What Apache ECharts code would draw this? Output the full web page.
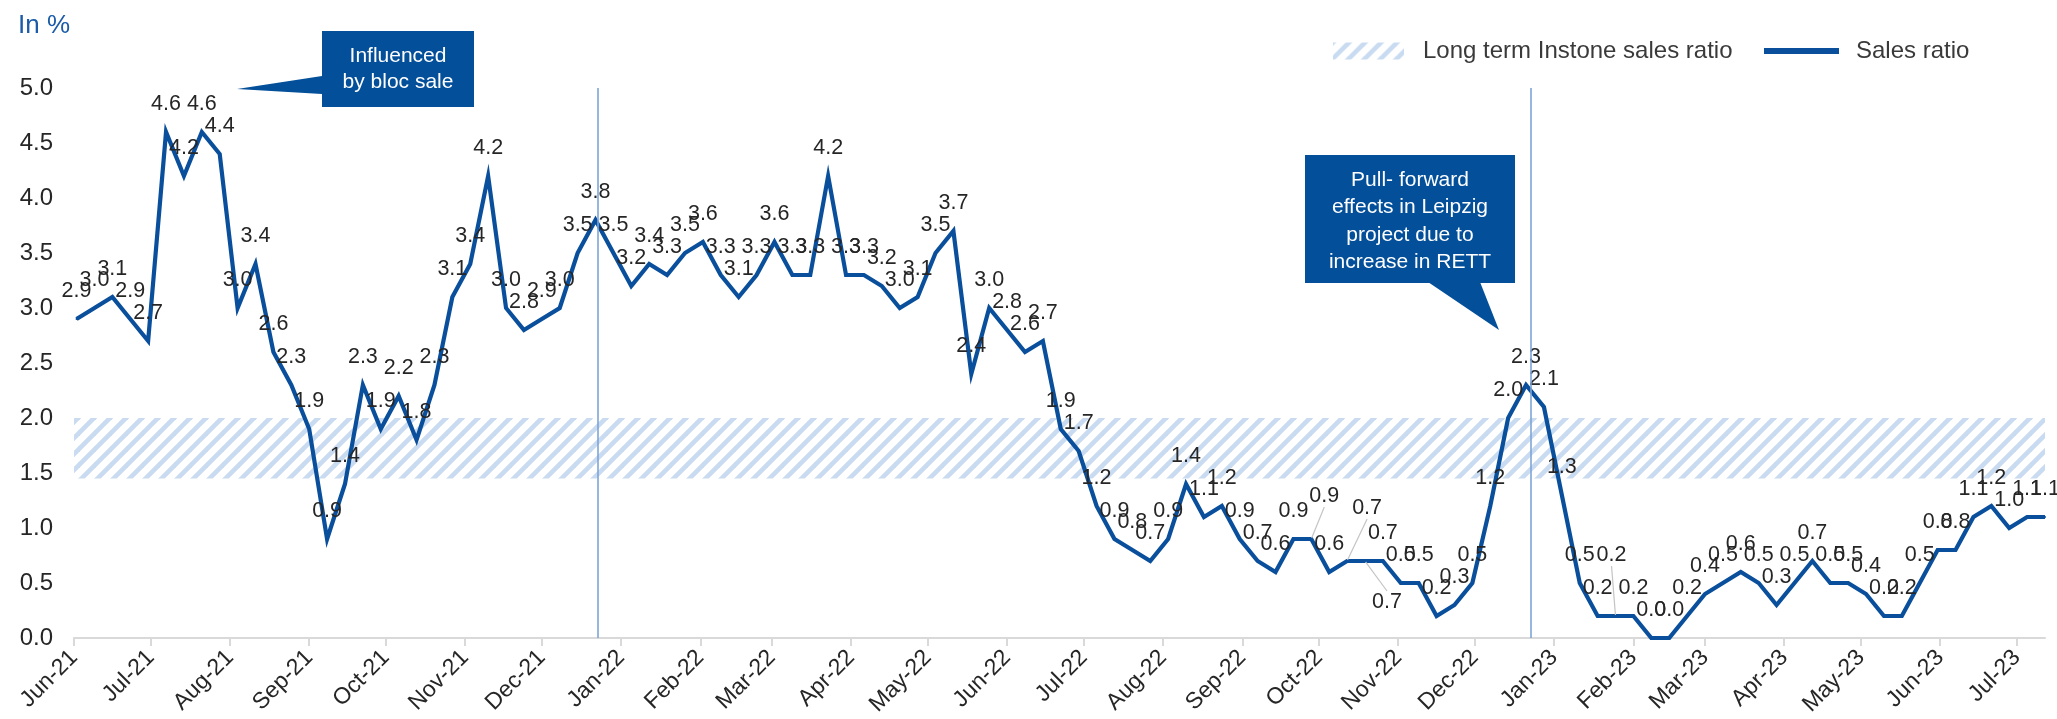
<!DOCTYPE html>
<html>
<head>
<meta charset="utf-8">
<title>Sales ratio</title>
<script src="https://cdn.jsdelivr.net/npm/echarts@6/dist/echarts.min.js"></script>
<style>
  html, body { margin: 0; padding: 0; background: #ffffff; }
  #chart { width: 2057px; height: 719px; }
</style>
</head>
<body>
<div id="chart"></div>
<script>
// Weekly reporting dates
const weeks = [
  '2021-06-02','2021-06-09','2021-06-16','2021-06-23','2021-06-30',
  '2021-07-07','2021-07-14','2021-07-21','2021-07-28',
  '2021-08-04','2021-08-11','2021-08-18','2021-08-25',
  '2021-09-01','2021-09-08','2021-09-15','2021-09-22','2021-09-29',
  '2021-10-06','2021-10-13','2021-10-20','2021-10-27',
  '2021-11-03','2021-11-10','2021-11-17','2021-11-24',
  '2021-12-01','2021-12-08','2021-12-15','2021-12-22','2021-12-29',
  '2022-01-05','2022-01-12','2022-01-19','2022-01-26',
  '2022-02-02','2022-02-09','2022-02-16','2022-02-23',
  '2022-03-02','2022-03-09','2022-03-16','2022-03-23','2022-03-30',
  '2022-04-06','2022-04-13','2022-04-20','2022-04-27',
  '2022-05-04','2022-05-11','2022-05-18','2022-05-25',
  '2022-06-01','2022-06-08','2022-06-15','2022-06-22','2022-06-29',
  '2022-07-06','2022-07-13','2022-07-20','2022-07-27',
  '2022-08-03','2022-08-10','2022-08-17','2022-08-24','2022-08-31',
  '2022-09-07','2022-09-14','2022-09-21','2022-09-28',
  '2022-10-05','2022-10-12','2022-10-19','2022-10-26',
  '2022-11-02','2022-11-09','2022-11-16','2022-11-23','2022-11-30',
  '2022-12-07','2022-12-14','2022-12-21','2022-12-28',
  '2023-01-04','2023-01-11','2023-01-18','2023-01-25',
  '2023-02-01','2023-02-08','2023-02-15','2023-02-22',
  '2023-03-01','2023-03-08','2023-03-15','2023-03-22','2023-03-29',
  '2023-04-05','2023-04-12','2023-04-19','2023-04-26',
  '2023-05-03','2023-05-10','2023-05-17','2023-05-24','2023-05-31',
  '2023-06-07','2023-06-14','2023-06-21','2023-06-28',
  '2023-07-05','2023-07-12'
];

// Sales ratio per week, in %
const salesRatio = [
  2.9, 3.0, 3.1, 2.9, 2.7,
  4.6, 4.2, 4.6, 4.4,
  3.0, 3.4, 2.6, 2.3,
  1.9, 0.9, 1.4, 2.3, 1.9,
  2.2, 1.8, 2.3, 3.1,
  3.4, 4.2, 3.0, 2.8,
  2.9, 3.0, 3.5, 3.8, 3.5,
  3.2, 3.4, 3.3, 3.5,
  3.6, 3.3, 3.1, 3.3,
  3.6, 3.3, 3.3, 4.2, 3.3,
  3.3, 3.2, 3.0, 3.1,
  3.5, 3.7, 2.4, 3.0,
  2.8, 2.6, 2.7, 1.9, 1.7,
  1.2, 0.9, 0.8, 0.7,
  0.9, 1.4, 1.1, 1.2, 0.9,
  0.7, 0.6, 0.9, 0.9,
  0.6, 0.7, 0.7, 0.7,
  0.5, 0.5, 0.2, 0.3, 0.5,
  1.2, 2.0, 2.3, 2.1,
  1.3, 0.5, 0.2, 0.2,
  0.2, 0.0, 0.0, 0.2,
  0.4, 0.5, 0.6, 0.5, 0.3,
  0.5, 0.7, 0.5, 0.5,
  0.4, 0.2, 0.2, 0.5, 0.8,
  0.8, 1.1, 1.2, 1.0,
  1.1, 1.1
];

// Long term Instone sales ratio corridor, in %
const longTermBand = [1.45, 2.0];

// Time span of the x axis and the year-end reference lines
const axisRange = ['2021-06-01', '2023-07-12'];
const yearEndMarks = ['2021-12-23', '2022-12-23'];

// Month names for the axis labels
const monthNames = ['Jan','Feb','Mar','Apr','May','Jun','Jul','Aug','Sep','Oct','Nov','Dec'];

// Y axis ticks, in %
const yTickMin = 0, yTickMax = 5, yTickStep = 0.5;

// Hand-placed data labels (index -> [dx, dy] in px), drawn with a leader line
const movedLabels = { 69: [13, -15], 71: [20, -25], 72: [22, 69], 86: [-4, -33] };

const FONT = '"Liberation Sans", Arial, Helvetica, sans-serif';
const LINE_BLUE = '#0a4f9c';
const BOX_BLUE = '#034f9a';
const TEXT = '#262626';

// Light-blue diagonal hatch used for the long-term corridor
function makeHatch() {
  const c = document.createElement('canvas');
  c.width = 16; c.height = 16;
  const g = c.getContext('2d');
  g.strokeStyle = '#c9dbf1';
  g.lineWidth = 4.6;
  g.lineCap = 'square';
  [-16, 0, 16].forEach(function (k) {
    g.beginPath();
    g.moveTo(k, 16);
    g.lineTo(k + 16, 0);
    g.stroke();
  });
  return c;
}
const hatch = { image: makeHatch(), repeat: 'repeat' };

const bandName = 'Long term Instone sales ratio';
const lineName = 'Sales ratio';

const lineData = weeks.map(function (d, i) {
  const item = { value: [d, salesRatio[i]] };
  if (movedLabels[i]) {
    item.labelLine = { show: true, lineStyle: { color: '#c4c4c4', width: 1.2 } };
  }
  return item;
});

const chart = echarts.init(document.getElementById('chart'), null, { renderer: 'canvas' });

chart.setOption({
  animation: false,
  backgroundColor: '#ffffff',
  textStyle: { fontFamily: FONT },
  title: {
    text: 'In %',
    left: 13,
    top: 8,
    textStyle: { color: '#1b5ba8', fontSize: 26, fontWeight: 'normal', fontFamily: FONT }
  },
  legend: [
    {
      data: [{ name: bandName, icon: 'rect', itemStyle: { color: hatch } }],
      left: 1328,
      top: 34,
      itemWidth: 71,
      itemHeight: 17,
      selectedMode: false,
      textStyle: { color: '#3a3a3a', fontSize: 24, fontFamily: FONT, padding: [0, 0, 0, 14] }
    },
    {
      data: [{ name: lineName, icon: 'rect', itemStyle: { color: LINE_BLUE } }],
      left: 1759,
      top: 34,
      itemWidth: 75,
      itemHeight: 6,
      selectedMode: false,
      textStyle: { color: '#3a3a3a', fontSize: 24, fontFamily: FONT, padding: [0, 0, 0, 12] }
    }
  ],
  grid: {
    left: 74,
    right: 12,
    top: 88,
    bottom: 81,
    containLabel: false,
    outerBoundsMode: 'none'
  },
  xAxis: {
    type: 'time',
    min: axisRange[0],
    max: axisRange[1],
    splitNumber: 40,
    minInterval: 32 * 24 * 3600 * 1000,
    maxInterval: 32 * 24 * 3600 * 1000,
    axisLine: { show: true, lineStyle: { color: '#d9d9d9', width: 2 } },
    axisTick: { show: true, length: 8, lineStyle: { color: '#d9d9d9', width: 2 } },
    splitLine: { show: false },
    axisLabel: {
      rotate: 45,
      margin: 16,
      color: TEXT,
      fontSize: 23,
      fontFamily: FONT,
      showMaxLabel: false,
      hideOverlap: false,
      formatter: function (value) {
        const d = new Date(value);
        return monthNames[d.getMonth()] + '-' + String(d.getFullYear()).slice(2);
      }
    }
  },
  yAxis: {
    type: 'value',
    min: yTickMin,
    max: yTickMax,
    interval: yTickStep,
    axisLine: { show: false },
    axisTick: { show: false },
    splitLine: { show: false },
    axisLabel: {
      margin: 21,
      color: TEXT,
      fontSize: 24,
      fontFamily: FONT,
      formatter: function (v) { return v.toFixed(1); }
    }
  },
  series: [
    {
      name: bandName,
      type: 'line',
      data: [],
      itemStyle: { color: hatch },
      z: 1,
      markArea: {
        silent: true,
        itemStyle: { color: hatch },
        data: [[{ yAxis: longTermBand[0] }, { yAxis: longTermBand[1] }]]
      }
    },
    {
      name: lineName,
      type: 'line',
      data: lineData,
      z: 3,
      symbol: 'circle',
      symbolSize: 2,
      showSymbol: true,
      itemStyle: { color: LINE_BLUE },
      lineStyle: { color: LINE_BLUE, width: 4.2, join: 'miter' },
      label: {
        show: true,
        position: 'top',
        distance: 16,
        color: TEXT,
        fontSize: 21.5,
        fontFamily: FONT,
        formatter: function (p) { return p.value[1].toFixed(1); }
      },
      labelLine: { show: false },
      labelLayout: function (p) {
        const m = movedLabels[p.dataIndex];
        return m ? { dx: m[0], dy: m[1] } : {};
      },
      markLine: {
        silent: true,
        symbol: ['none', 'none'],
        label: { show: false },
        lineStyle: { color: '#7ea5d6', width: 1.6, type: 'solid' },
        data: yearEndMarks.map(function (d) { return { xAxis: d }; })
      }
    }
  ],
  graphic: [
    {
      type: 'polygon',
      shape: { points: [[322, 76], [237, 89], [322, 94]] },
      style: { fill: BOX_BLUE }
    },
    {
      type: 'rect',
      shape: { x: 322, y: 31, width: 152, height: 76 },
      style: { fill: BOX_BLUE }
    },
    {
      type: 'text',
      x: 398,
      y: 69,
      style: {
        text: 'Influenced\nby bloc sale',
        fill: '#ffffff',
        font: '21px ' + FONT,
        align: 'center',
        verticalAlign: 'middle',
        lineHeight: 26
      }
    },
    {
      type: 'polygon',
      shape: { points: [[1428, 282], [1499, 330], [1480, 282]] },
      style: { fill: BOX_BLUE }
    },
    {
      type: 'rect',
      shape: { x: 1305, y: 155, width: 210, height: 128 },
      style: { fill: BOX_BLUE }
    },
    {
      type: 'text',
      x: 1410,
      y: 221,
      style: {
        text: 'Pull- forward\neffects in Leipzig\nproject due to\nincrease in RETT',
        fill: '#ffffff',
        font: '21px ' + FONT,
        align: 'center',
        verticalAlign: 'middle',
        lineHeight: 27.5
      }
    }
  ]
});
</script>
</body>
</html>
